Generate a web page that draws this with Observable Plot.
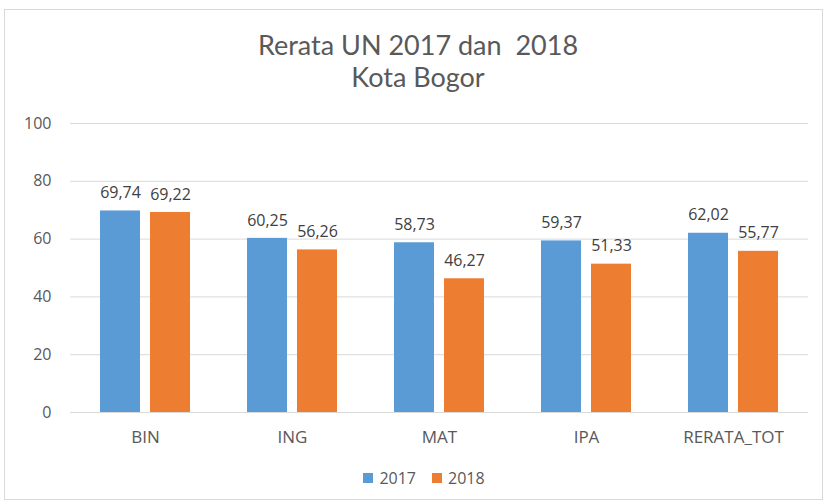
<!DOCTYPE html>
<html><head><meta charset="utf-8">
<script src="https://cdn.jsdelivr.net/npm/d3@7"></script>
<script src="https://cdn.jsdelivr.net/npm/@observablehq/plot@0.6"></script>
<style>
body{margin:0;background:#fff;width:828px;height:502px;position:relative;overflow:hidden;}
#frame{position:absolute;left:4px;top:9px;width:819px;height:491px;border:1px solid #d9d9d9;box-sizing:border-box;}
#title{position:absolute;left:0;top:29px;width:836px;text-align:center;font-family:Lato,"Open Sans",sans-serif;font-weight:400;font-size:27px;line-height:32px;color:#595959;white-space:pre;}
#chart{position:absolute;left:0;top:100px;}
#legend{position:absolute;left:0;top:467px;width:848px;display:flex;justify-content:center;align-items:center;font-family:"Open Sans",sans-serif;font-size:16px;line-height:22px;color:#595959;}
.item{display:flex;align-items:center;margin:0 8px;}
.sw{width:10px;height:10px;margin-right:6px;}
</style></head>
<body>
<div id="frame"></div>
<div id="title"></div>
<div id="chart"></div>
<div id="legend"></div>
<script>
const titleLines = ["Rerata UN 2017 dan  2018", "Kota Bogor"];
const categories = ["BIN", "ING", "MAT", "IPA", "RERATA_TOT"];
const series = ["2017", "2018"];
const colors = ["#5b9bd5", "#ed7d31"];
const values2017 = [69.74, 60.25, 58.73, 59.37, 62.02];
const values2018 = [69.22, 56.26, 46.27, 51.33, 55.77];
const yTicks = [0, 20, 40, 60, 80, 100];

document.getElementById("title").innerHTML = titleLines.join("<br>");

const rows2017 = categories.map((c, i) => ({cat: c, v: values2017[i]}));
const rows2018 = categories.map((c, i) => ({cat: c, v: values2018[i]}));
const fmt = d => d.v.toFixed(2).replace(".", ",");
const labelStyle = {fill: "#404040", fontSize: 16, fontFamily: "Open Sans"};

const chart = Plot.plot({
  width: 828,
  height: 360,
  marginTop: 23,
  marginBottom: 48,
  marginLeft: 70,
  marginRight: 20,
  style: {fontFamily: "Open Sans", fontSize: "16px", color: "#595959", background: "transparent"},
  x: {domain: categories, paddingInner: 0.729, paddingOuter: 0.3645},
  y: {domain: [0, 100]},
  marks: [
    Plot.ruleY(yTicks, {stroke: "#d9d9d9", strokeWidth: 1}),
    Plot.axisY(yTicks, {tickSize: 0, tickPadding: 19, label: null, fontSize: 16, fill: "#595959"}),
    Plot.axisX({tickSize: 0, tickPadding: 18, label: null, fontSize: 17, fill: "#595959"}),
    Plot.barY(rows2017, {x: "cat", y: "v", fill: colors[0], dx: -25}),
    Plot.barY(rows2018, {x: "cat", y: "v", fill: colors[1], dx: 25}),
    Plot.text(rows2017, {x: "cat", y: "v", text: fmt, dx: -25, dy: -18, ...labelStyle}),
    Plot.text(rows2018, {x: "cat", y: "v", text: fmt, dx: 25, dy: -18, ...labelStyle})
  ]
});
document.getElementById("chart").appendChild(chart);

const legend = document.getElementById("legend");
series.forEach((s, i) => {
  const item = document.createElement("div");
  item.className = "item";
  item.innerHTML = `<span class="sw" style="background:${colors[i]}"></span><span>${s}</span>`;
  legend.appendChild(item);
});
</script>
</body></html>
